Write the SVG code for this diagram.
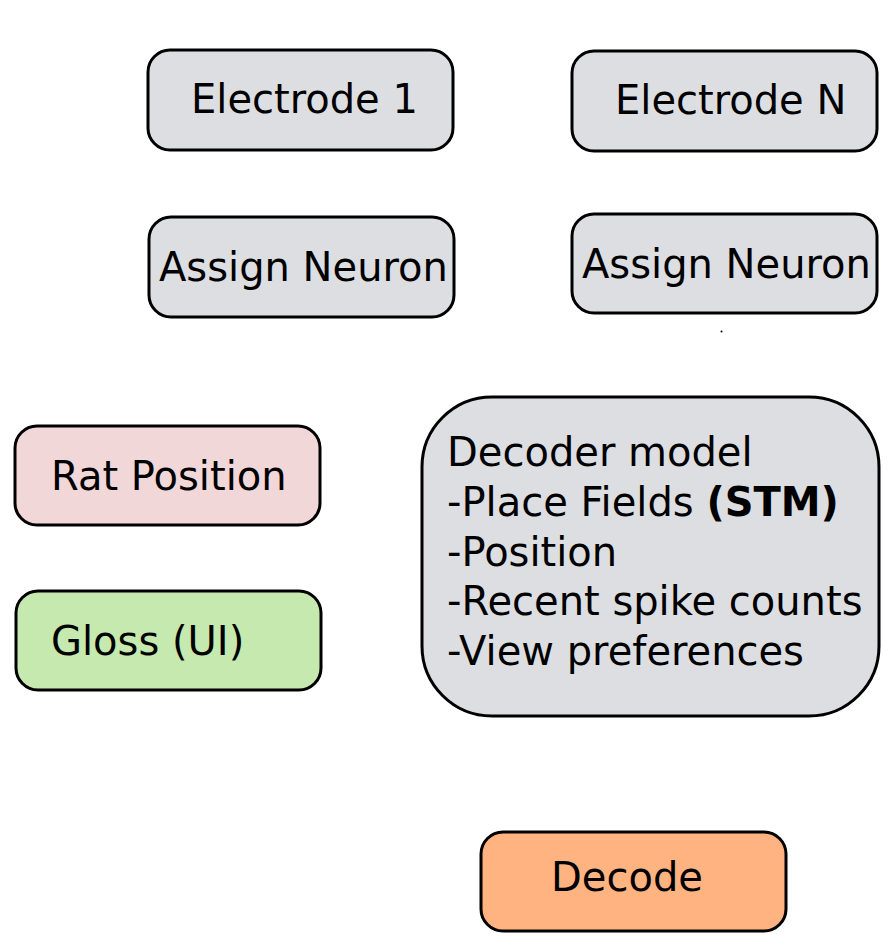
<svg xmlns="http://www.w3.org/2000/svg" width="892" height="934" viewBox="0 0 892 934">
<style>
.box{stroke:#000;stroke-width:3}
.gray{fill:#dcdee2}
text{font-family:"DejaVu Sans",sans-serif;font-size:40px;fill:#000}
</style>
<rect width="892" height="934" fill="#fff"/>
<g id="connectors">
<circle cx="721.5" cy="331.5" r="1" fill="#000"/>
</g>
<g id="electrode1"><rect class="box gray" x="148" y="50" width="305" height="100" rx="22"/><text x="191" y="113">Electrode 1</text></g>
<g id="electrodeN"><rect class="box gray" x="572" y="51" width="305" height="100" rx="22"/><text x="615" y="114">Electrode N</text></g>
<g id="assign1"><rect class="box gray" x="149" y="217" width="305" height="100" rx="22"/><text x="159" y="281">Assign Neuron</text></g>
<g id="assignN"><rect class="box gray" x="572" y="214" width="305" height="99" rx="22"/><text x="582" y="278">Assign Neuron</text></g>
<g id="ratPosition"><rect class="box" fill="#f2d7d9" x="15" y="426" width="305" height="99" rx="22"/><text x="51" y="490">Rat Position</text></g>
<g id="gloss"><rect class="box" fill="#c6e9af" x="16" y="591" width="305" height="99" rx="22"/><text x="51" y="655">Gloss (UI)</text></g>
<g id="decoderModel"><rect class="box gray" stroke-width="3.5" x="422" y="397" width="457" height="319" rx="70"/>
<text x="447" y="466">Decoder model</text>
<text x="447" y="516">-Place Fields <tspan font-weight="bold">(STM)</tspan></text>
<text x="447" y="566">-Position</text>
<text x="447" y="615">-Recent spike counts</text>
<text x="447" y="665">-View preferences</text></g>
<g id="decode"><rect class="box" fill="#ffb380" x="481" y="832" width="305" height="99" rx="22"/><text x="551" y="891">Decode</text></g>
</svg>
